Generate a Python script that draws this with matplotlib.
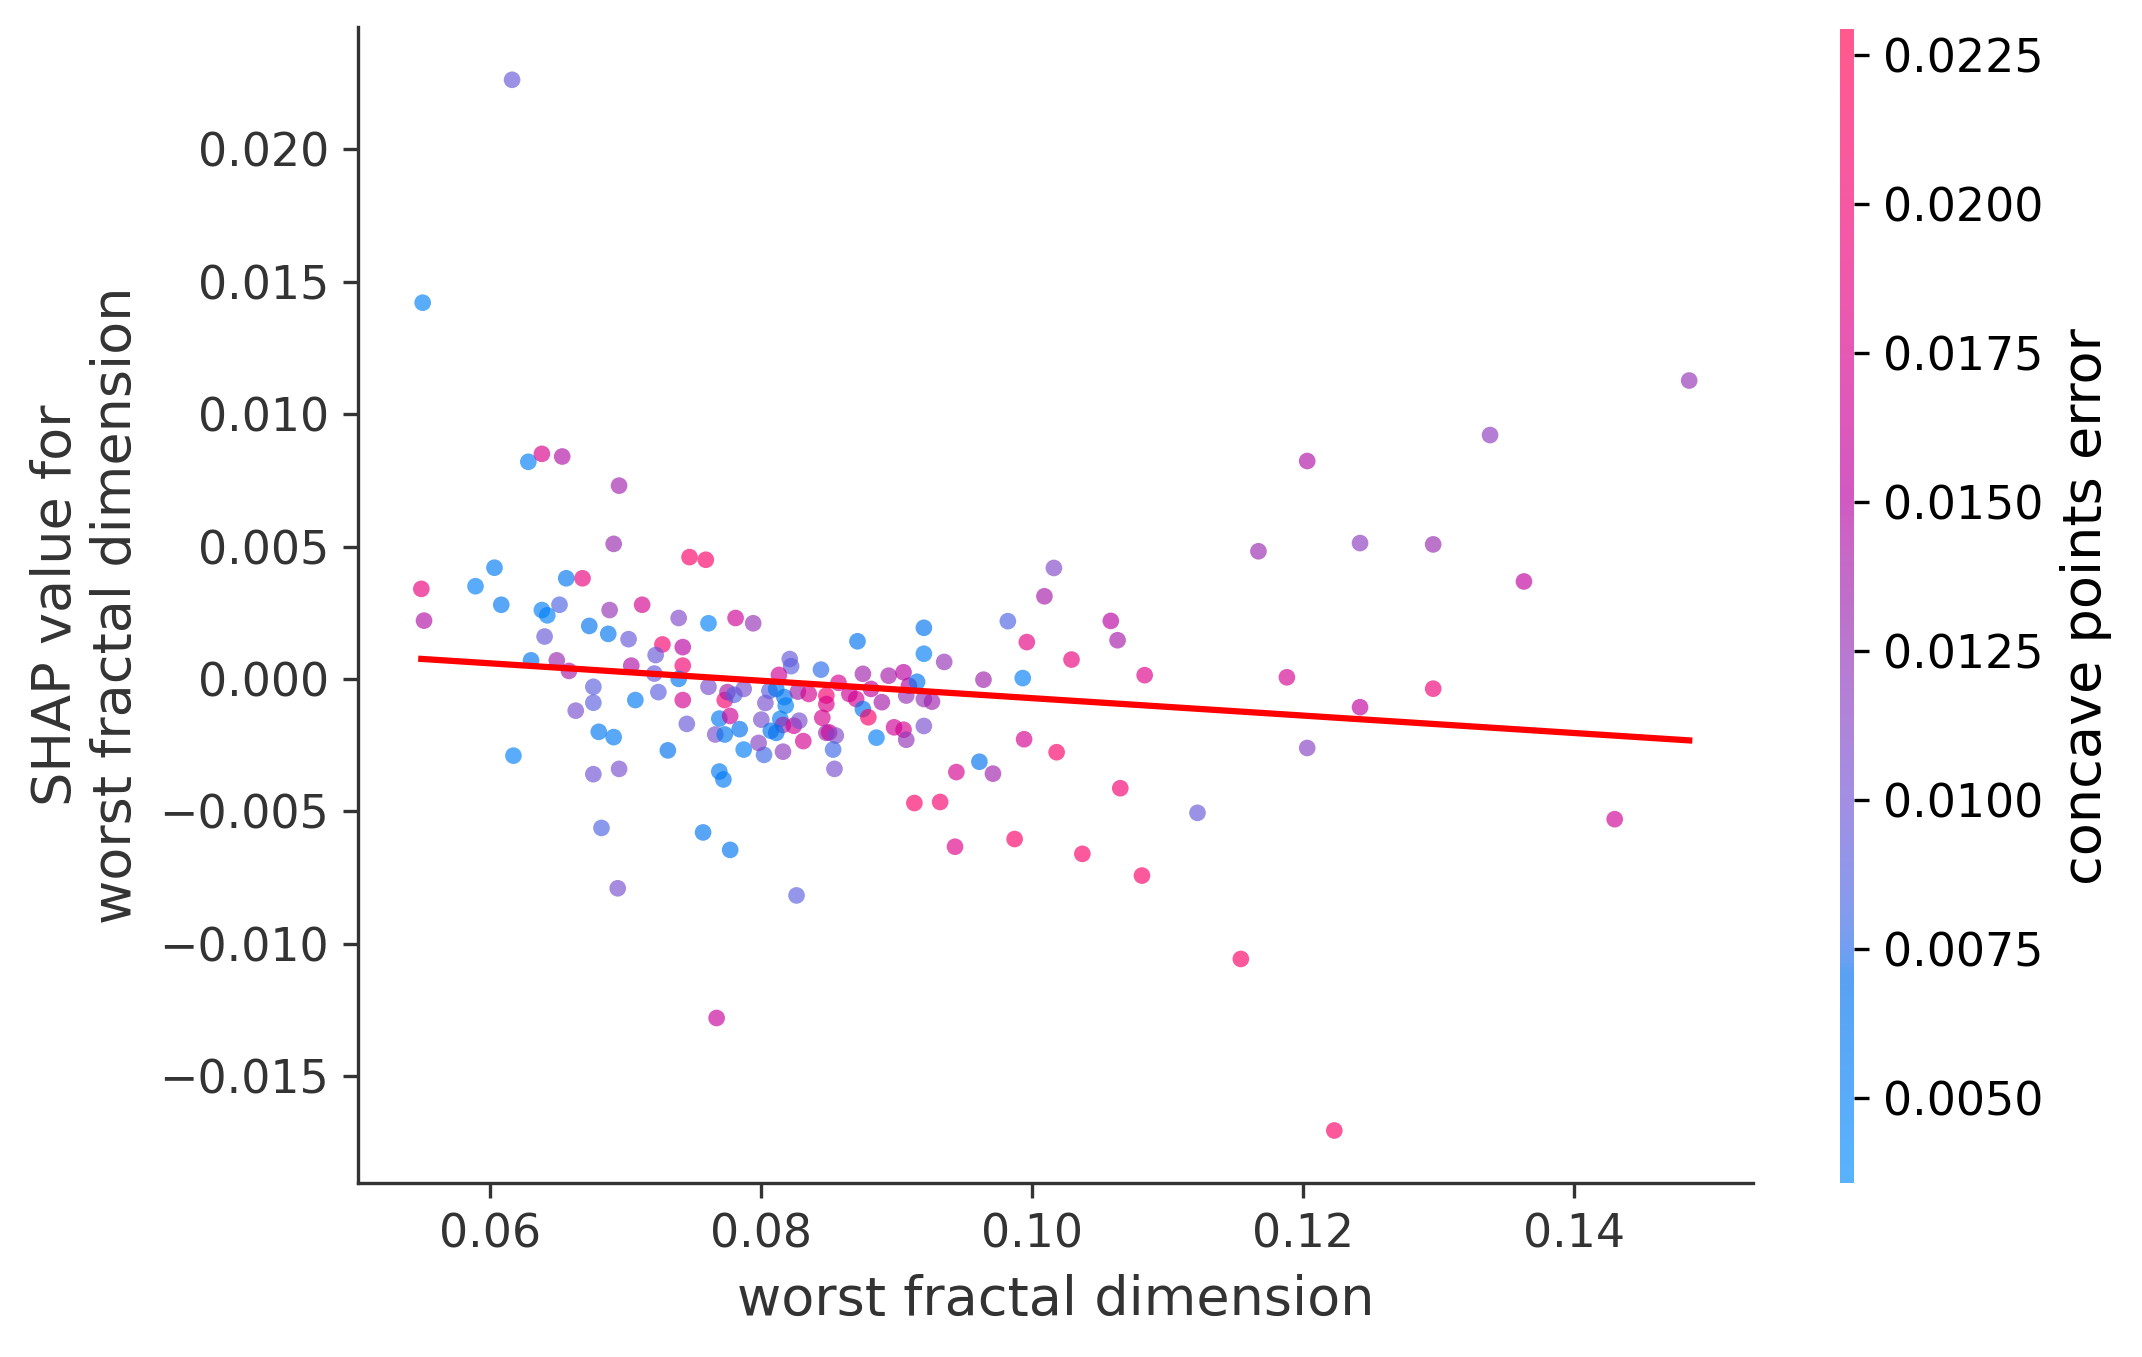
import numpy as np
import matplotlib
matplotlib.use("Agg")
import matplotlib.pyplot as plt
from matplotlib.colors import LinearSegmentedColormap, Normalize
from matplotlib.ticker import MultipleLocator

# worst fractal dimension (x), its SHAP value (y), concave points error (colour)
feature_x = [
    0.0628, 0.0638, 0.0653, 0.0695, 0.0691, 0.0747, 0.0759, 0.0549, 0.0551, 0.0603,
    0.0589, 0.0608, 0.0656, 0.0668, 0.0638, 0.0642, 0.0651, 0.0640, 0.0688, 0.0712,
    0.0673, 0.0687, 0.0702, 0.0739, 0.0761, 0.0781, 0.0794, 0.0630, 0.0649, 0.0658,
    0.0727, 0.0742, 0.0722, 0.0742, 0.0704, 0.0721, 0.0739, 0.0676, 0.0676, 0.0663,
    0.0707, 0.0724, 0.0742, 0.0761, 0.0745, 0.0680, 0.0691, 0.0617, 0.0731, 0.0676,
    0.0695, 0.0769, 0.0772, 0.0773, 0.0775, 0.0780, 0.0769, 0.0777, 0.0766, 0.0773,
    0.0784,
    0.0821, 0.0822, 0.0813, 0.0844, 0.0871, 0.0920, 0.0920, 0.0935, 0.0982, 0.1009,
    0.1016, 0.1058, 0.1063, 0.0996, 0.1029, 0.0964, 0.0993, 0.0994, 0.1018, 0.0961,
    0.0971, 0.0944, 0.0913, 0.0932, 0.0943, 0.0987, 0.1037, 0.1065,
    0.0787, 0.0802, 0.0798, 0.0800, 0.0803, 0.0806, 0.0787, 0.0811, 0.0817, 0.0818,
    0.0814, 0.0816, 0.0811, 0.0807, 0.0824, 0.0828, 0.0816, 0.0831, 0.0827, 0.0835,
    0.0848, 0.0848, 0.0845, 0.0848, 0.0850, 0.0855, 0.0853, 0.0854, 0.0857, 0.0865,
    0.0870, 0.0875, 0.0881, 0.0875, 0.0879, 0.0889, 0.0885, 0.0894, 0.0905, 0.0909,
    0.0907, 0.0915, 0.0920, 0.0926, 0.0898, 0.0905, 0.0907, 0.0920,
    0.0616, 0.0550, 0.1485, 0.1338, 0.1203, 0.1167, 0.1242, 0.1296, 0.1083, 0.1188,
    0.1242, 0.1296, 0.1203, 0.1122, 0.1363, 0.1430, 0.1154, 0.1223, 0.1081, 0.0682,
    0.0757, 0.0777, 0.0694, 0.0826, 0.0767,
]
shap_values = [
    0.0082, 0.0085, 0.0084, 0.0073, 0.0051, 0.0046, 0.0045, 0.0034, 0.0022, 0.0042,
    0.0035, 0.0028, 0.0038, 0.0038, 0.0026, 0.0024, 0.0028, 0.0016, 0.0026, 0.0028,
    0.0020, 0.0017, 0.0015, 0.0023, 0.0021, 0.0023, 0.0021, 0.0007, 0.0007, 0.0003,
    0.0013, 0.0012, 0.0009, 0.0005, 0.0005, 0.0002, 0.0000, -0.0003, -0.0009, -0.0012,
    -0.0008, -0.0005, -0.0008, -0.0003, -0.0017, -0.0020, -0.0022, -0.0029, -0.0027, -0.0036,
    -0.0034, -0.0035, -0.0038, -0.0008, -0.0005, -0.0006, -0.0015, -0.0014, -0.0021, -0.0021,
    -0.0019,
    0.00075, 0.00048, 0.00015, 0.00035, 0.00142, 0.00193, 0.00095, 0.00064, 0.00218, 0.00312,
    0.00419, 0.00219, 0.00146, 0.00139, 0.00073, -0.00003, 0.00003, -0.00228, -0.00277, -0.00313,
    -0.00358, -0.00352, -0.00469, -0.00465, -0.00634, -0.00605, -0.00661, -0.00413,
    -0.00267, -0.00287, -0.00242, -0.00154, -0.00091, -0.00045, -0.00038, -0.00038, -0.00069, -0.00101,
    -0.00151, -0.00174, -0.00204, -0.00196, -0.00177, -0.00158, -0.00275, -0.00235, -0.00048, -0.00057,
    -0.00063, -0.00095, -0.00147, -0.00204, -0.00202, -0.00214, -0.00267, -0.00340, -0.00015, -0.00057,
    -0.00076, 0.00019, -0.00038, -0.00114, -0.00145, -0.00088, -0.00222, 0.00012, 0.00025, -0.00026,
    -0.00063, -0.00011, -0.00076, -0.00086, -0.00183, -0.00192, -0.00230, -0.00178,
    0.02263, 0.01421, 0.01127, 0.00921, 0.00823, 0.00482, 0.00513, 0.00508, 0.00014, 0.00006,
    -0.00107, -0.00037, -0.00261, -0.00506, 0.00368, -0.00530, -0.01058, -0.01706, -0.00743, -0.00563,
    -0.00580, -0.00646, -0.00791, -0.00818, -0.01281,
]
concave_points_error = [
    0.0055, 0.0175, 0.0145, 0.0135, 0.0130, 0.0210, 0.0210, 0.0190, 0.0145, 0.0060,
    0.0050, 0.0062, 0.0065, 0.0190, 0.0055, 0.0050, 0.0085, 0.0095, 0.0125, 0.0170,
    0.0068, 0.0065, 0.0095, 0.0110, 0.0050, 0.0165, 0.0125, 0.0065, 0.0130, 0.0140,
    0.0205, 0.0150, 0.0095, 0.0200, 0.0145, 0.0095, 0.0065, 0.0090, 0.0090, 0.0105,
    0.0060, 0.0090, 0.0170, 0.0105, 0.0095, 0.0062, 0.0060, 0.0050, 0.0070, 0.0100,
    0.0105, 0.0060, 0.0058, 0.0205, 0.0140, 0.0085, 0.0060, 0.0165, 0.0105, 0.0065,
    0.0070,
    0.0095, 0.0090, 0.0165, 0.0075, 0.0068, 0.0068, 0.0055, 0.0125, 0.0085, 0.0140,
    0.0110, 0.0150, 0.0140, 0.0185, 0.0190, 0.0135, 0.0055, 0.0170, 0.0210, 0.0068,
    0.0135, 0.0170, 0.0210, 0.0205, 0.0180, 0.0210, 0.0210, 0.0200,
    0.0052, 0.0080, 0.0115, 0.0105, 0.0105, 0.0090, 0.0105, 0.0065, 0.0065, 0.0055,
    0.0055, 0.0130, 0.0070, 0.0068, 0.0165, 0.0105, 0.0120, 0.0170, 0.0135, 0.0170,
    0.0205, 0.0175, 0.0170, 0.0125, 0.0165, 0.0110, 0.0080, 0.0105, 0.0170, 0.0165,
    0.0170, 0.0135, 0.0155, 0.0068, 0.0210, 0.0140, 0.0055, 0.0140, 0.0150, 0.0150,
    0.0125, 0.0065, 0.0125, 0.0135, 0.0165, 0.0170, 0.0125, 0.0105,
    0.0095, 0.0050, 0.0125, 0.0120, 0.0145, 0.0130, 0.0120, 0.0130, 0.0180, 0.0170,
    0.0155, 0.0195, 0.0115, 0.0095, 0.0155, 0.0165, 0.0210, 0.0210, 0.0210, 0.0085,
    0.0065, 0.0065, 0.0105, 0.0090, 0.0160,
]

# range shown on the colour bar
color_range = [0.00356, 0.02293]


def lch_to_rgb(l, c, h):
    # CIE LCh -> sRGB (D65), as used for the shap red/blue map
    a = c * np.cos(h)
    b = c * np.sin(h)
    fy = (l + 16.0) / 116.0
    fx = fy + a / 500.0
    fz = fy - b / 200.0

    def finv(t):
        return np.where(t > 6 / 29, t ** 3, 3 * (6 / 29) ** 2 * (t - 4 / 29))

    xyz = np.array([0.95047 * finv(fx), finv(fy), 1.08883 * finv(fz)])
    m = np.array([[3.2406, -1.5372, -0.4986],
                  [-0.9689, 1.8758, 0.0415],
                  [0.0557, -0.2040, 1.0570]])
    rgb = m @ xyz
    rgb = np.where(rgb > 0.0031308,
                   1.055 * np.abs(rgb) ** (1 / 2.4) - 0.055, 12.92 * rgb)
    return np.clip(rgb, 0, 1)


def red_blue_cmap():
    blue_lch = [54.0, 70.0, 4.6588]
    red_lch = [54.0, 90.0, 0.35470565 + 2 * np.pi]
    l_mid = 40.0
    n = 100
    ls = list(np.linspace(blue_lch[0], l_mid, n // 2)) + \
        list(np.linspace(l_mid, red_lch[0], n // 2))
    cs = np.linspace(blue_lch[1], red_lch[1], n)
    hs = np.linspace(blue_lch[2], red_lch[2], n)
    colors = [lch_to_rgb(l, c, h) for l, c, h in zip(ls, cs, hs)]
    return LinearSegmentedColormap.from_list("red_blue", colors)


def main():
    axis_color = "#333333"
    x = np.array(feature_x)
    y = np.array(shap_values)

    fig = plt.figure(figsize=(2142 / 300, 1357 / 300), dpi=300)
    ax = fig.add_axes([0.1671, 0.1282, 0.6511, 0.8517])
    cax = fig.add_axes([0.8590, 0.1279, 0.00654, 0.8505])

    norm = Normalize(vmin=color_range[0], vmax=color_range[1])
    p = ax.scatter(x, y, s=16, linewidth=0, c=concave_points_error,
                   cmap=red_blue_cmap(), norm=norm, alpha=0.65)

    # linear trend
    slope, intercept = np.polyfit(x, y, 1)
    xs = np.array([x.min(), x.max()])
    ax.plot(xs, slope * xs + intercept, color="red", linewidth=1.5)

    ax.set_xlabel("worst fractal dimension", color=axis_color, fontsize=13)
    ax.set_ylabel("SHAP value for\nworst fractal dimension",
                  color=axis_color, fontsize=13)
    ax.spines["right"].set_visible(False)
    ax.spines["top"].set_visible(False)
    for spine in ax.spines.values():
        spine.set_edgecolor(axis_color)
    ax.tick_params(color=axis_color, labelcolor=axis_color, labelsize=11)

    cb = fig.colorbar(p, cax=cax)
    cb.locator = MultipleLocator(0.0025)
    cb.update_ticks()
    cb.set_label("concave points error", size=13)
    cb.ax.tick_params(labelsize=11)
    cb.outline.set_visible(False)

    fig.savefig("out.png", dpi=300)


if __name__ == "__main__":
    main()
